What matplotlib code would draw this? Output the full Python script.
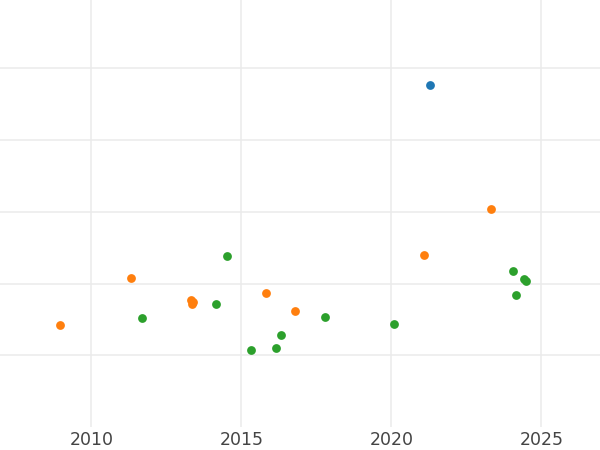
import numpy as np
import matplotlib.pyplot as plt

# values (y axis has no labels, arbitrary units)
blue_x = [2021.28]
blue_y = [4.76]

orange_x = [2008.95, 2011.32, 2013.32, 2013.38, 2013.35, 2015.82, 2016.78, 2021.08, 2023.32]
orange_y = [1.42, 2.08, 1.77, 1.74, 1.71, 1.87, 1.62, 2.40, 3.04]

green_x = [2011.68, 2014.15, 2014.52, 2015.32, 2016.15, 2016.32, 2017.78, 2020.08,
           2024.05, 2024.15, 2024.42, 2024.48]
green_y = [1.52, 1.71, 2.38, 1.07, 1.10, 1.28, 1.53, 1.43, 2.17, 1.84, 2.06, 2.03]

xticks = [2010, 2015, 2020, 2025]
yticks = [1, 2, 3, 4, 5]

fig = plt.figure(figsize=(6, 4.5), dpi=100)
ax = fig.add_axes([0, 0.051, 1, 0.949])

ax.scatter(blue_x, blue_y, s=40, color='#1f77b4', linewidths=0, zorder=3)
ax.scatter(orange_x, orange_y, s=40, color='#ff7f0e', linewidths=0, zorder=3)
ax.scatter(green_x, green_y, s=40, color='#2ca02c', linewidths=0, zorder=3)

ax.set_xlim(2006.95, 2026.95)
ax.set_ylim(0, 5.95)
ax.set_xticks(xticks)
ax.set_yticks(yticks)
ax.set_yticklabels([])
ax.tick_params(length=0, labelsize=12.5, labelcolor='#444444', pad=3)
ax.grid(True, color='#ebebeb', linewidth=1.1)
ax.set_axisbelow(True)
for s in ax.spines.values():
    s.set_visible(False)

fig.savefig('out.png', dpi=100)
